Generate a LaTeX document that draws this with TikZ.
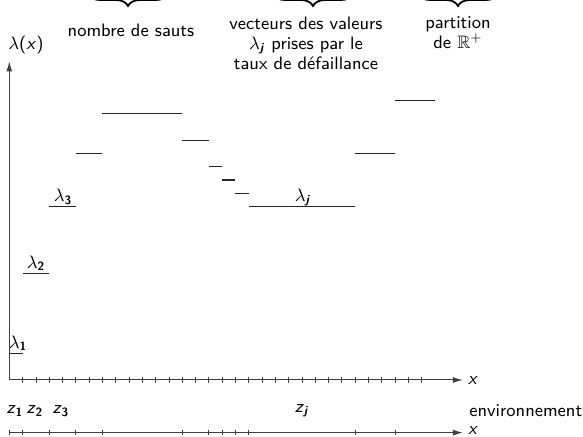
\documentclass[tikz,border=0pt]{standalone}
\usepackage{amsmath,amssymb}
\usetikzlibrary{arrows.meta,decorations.pathreplacing}
\begin{document}
\begin{tikzpicture}[x=0.5pt,y=-0.5pt,
  font=\sffamily\fontsize{9}{10}\selectfont,
  ax/.style={line width=0.5pt, draw=black!75},
  seg/.style={line width=0.55pt, draw=black!85},
  tk/.style={line width=0.4pt, draw=black!75},
  arr/.style={-{Latex[length=5pt,width=3pt]}},
  br/.style={decorate, decoration={brace, mirror, amplitude=6pt}, line width=0.9pt},
  lbl/.style={inner sep=0.5pt},
  txt/.style={inner sep=0pt, align=center}]
\path[use as bounding box, clip] (0,0) rectangle (583,437);
% braces (cut by the top edge)
\coordinate (b1l) at (88,-6);  \coordinate (b1r) at (168,-6);
\coordinate (b2l) at (273,-6); \coordinate (b2r) at (353,-6);
\coordinate (b3l) at (418,-6); \coordinate (b3r) at (498,-6);
\draw[br] (b1l) -- (b1r);
\draw[br] (b2l) -- (b2r);
\draw[br] (b3l) -- (b3r);
% top texts
\node[txt] (t1) at (131,30) {nombre de sauts};
\node[txt] (t2) at (306,43) {vecteurs des valeurs\\ $\lambda_{\textbf{\textit{j}}}$ prises par le\\ taux de d\'efaillance};
\node[txt] (t3) at (458,33) {partition\\ de $\mathbb{R}^+$};
\node[txt] (ylab) at (26,45) {$\lambda$(\textit{x})};
% plot
\begin{scope}[shift={(9.3,380)}, x=6.65pt, y=6.665pt]
 \coordinate (O) at (0,0);
 \coordinate (Ytip) at (0,23.9);
 \coordinate (Xtip) at (34.1,0);
 \draw[ax,arr] (O) -- (Ytip);
 \draw[ax,arr] (O) -- (Xtip);
 \foreach \k in {1,...,31} \draw[tk] (\k,-0.19) -- (\k,0.19);
 \foreach \a/\b/\h in {0/1/2, 1/3/8, 3/5/13, 5/7/17, 7/13/20, 13/15/18, 15/16/16, 16/17/15, 17/18/14, 18/26/13, 26/29/17, 29/32/21}
   \draw[seg] (\a,\h) -- (\b,\h);
 \coordinate (O2) at (0,-3.95);
 \coordinate (X2tip) at (34.1,-3.95);
 \draw[ax,arr] (O2) -- (X2tip);
 \foreach \k in {0,1,3,5,7,13,15,16,17,18,26,29} \draw[tk] (\k,-4.14) -- (\k,-3.76);
\end{scope}
% lambda labels
\node[lbl] (l1) at (18,343) {$\lambda_{\textbf{1}}$};
\node[lbl] (l2) at (36,263) {$\lambda_{\textbf{2}}$};
\node[lbl] (l3) at (63,197) {$\lambda_{\textbf{3}}$};
\node[lbl] (lj) at (303,197) {$\lambda_{\textbf{\textit{j}}}$};
% axis labels
\node[lbl] (xl1) at (473,381) {\textit{x}};
\node[lbl] (xl2) at (473,431) {\textit{x}};
% z labels
\node[lbl] (z1) at (15,411) {\textit{z}$_{\textbf{1}}$};
\node[lbl] (z2) at (35,411) {\textit{z}$_{\textbf{2}}$};
\node[lbl] (z3) at (61,411) {\textit{z}$_{\textbf{3}}$};
\node[lbl] (zj) at (302,411) {\textit{z}$_{\textbf{\textit{j}}}$};
\node[lbl, anchor=west] (env) at (468,411) {environnement};
\end{tikzpicture}
\end{document}
